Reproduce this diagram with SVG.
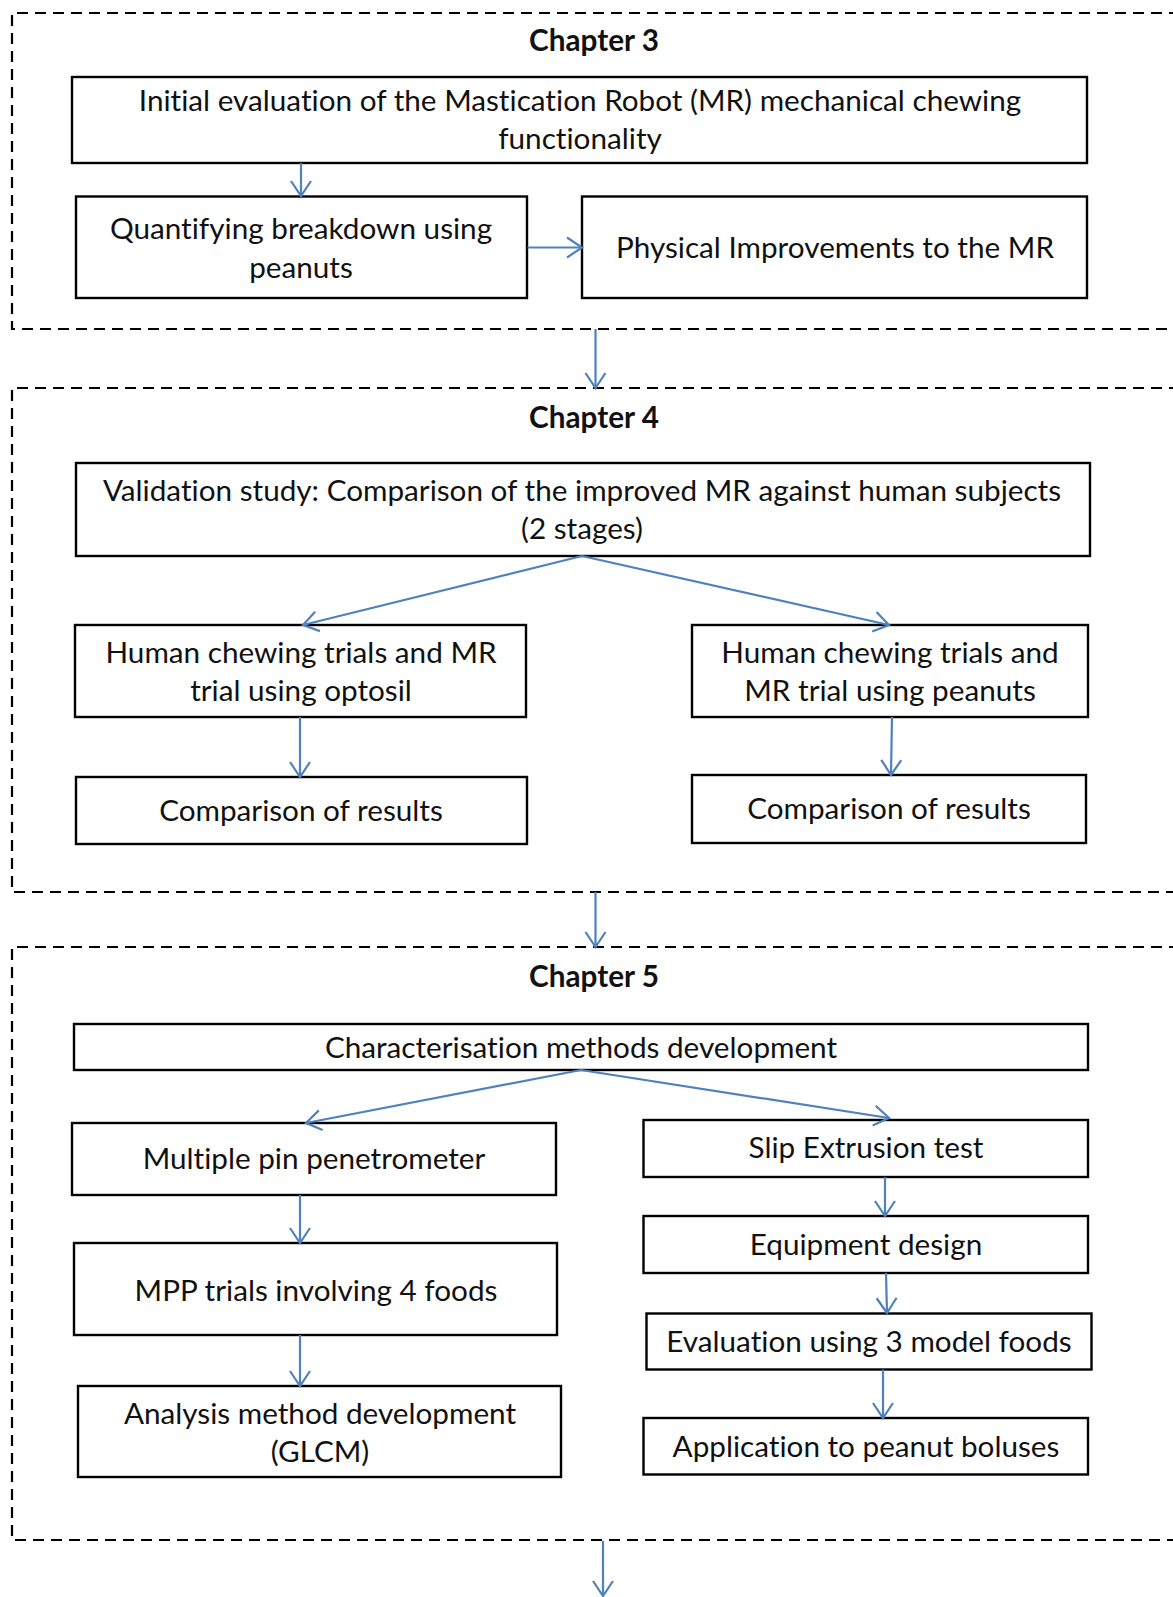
<svg xmlns="http://www.w3.org/2000/svg" width="1173" height="1597" viewBox="0 0 1173 1597">
<style>
.bg{fill:#ffffff}
.frame{fill:none;stroke:#000;stroke-width:2.2;stroke-dasharray:11 7}
.box{fill:#fff;stroke:#000;stroke-width:2.4}
.t,.h{font-family:Lato,"Open Sans","Liberation Sans",sans-serif;font-size:29.7px;fill:#111;text-anchor:middle;dominant-baseline:central;font-variant-ligatures:none}
.h{font-weight:bold}
.c{fill:none;stroke:#4f81bd;stroke-width:2.2;marker-end:url(#arr)}
</style>
<defs>
<marker id="arr" markerUnits="userSpaceOnUse" markerWidth="18" markerHeight="24" viewBox="0 0 18 24" refX="16" refY="12" orient="auto">
<path d="M1,2 L16,12 L1,22" fill="none" stroke="#4f81bd" stroke-width="2.2"/>
</marker>
</defs>
<rect class="bg" x="0" y="0" width="1173" height="1597"/>

<g id="chapter3">
<path class="frame" d="M1180,13 H12 V329 H1180"/>
<text class="h" x="594" y="39">Chapter 3</text>
</g>
<g id="chapter4">
<path class="frame" d="M1180,388 H12 V892 H1180"/>
<text class="h" x="594" y="416">Chapter 4</text>
</g>
<g id="chapter5">
<path class="frame" d="M1180,947 H12 V1540 H1180"/>
<text class="h" x="594" y="975">Chapter 5</text>
</g>

<g id="n-initial">
<rect class="box" x="72" y="77" width="1015" height="86"/>
<text class="t" x="580" y="99.5">Initial evaluation of the Mastication Robot (MR) mechanical chewing</text>
<text class="t" x="580" y="137.5">functionality</text>
</g>
<g id="n-quantifying">
<rect class="box" x="76" y="196.5" width="451" height="101.5"/>
<text class="t" x="301" y="227.5">Quantifying breakdown using</text>
<text class="t" x="301" y="266.5">peanuts</text>
</g>
<g id="n-physical">
<rect class="box" x="582" y="196.5" width="505" height="101.5"/>
<text class="t" x="835" y="246.5">Physical Improvements to the MR</text>
</g>

<g id="n-validation">
<rect class="box" x="76" y="463" width="1014" height="93"/>
<text class="t" x="582" y="489.5">Validation study: Comparison of the improved MR against human subjects</text>
<text class="t" x="582" y="527.5">(2 stages)</text>
</g>
<g id="n-optosil">
<rect class="box" x="75" y="625" width="451" height="92"/>
<text class="t" x="301" y="651.5">Human chewing trials and MR</text>
<text class="t" x="301" y="689.5">trial using optosil</text>
</g>
<g id="n-peanuts">
<rect class="box" x="692" y="625" width="396" height="92"/>
<text class="t" x="890" y="651.5">Human chewing trials and</text>
<text class="t" x="890" y="689.5">MR trial using peanuts</text>
</g>
<g id="n-compare1">
<rect class="box" x="76" y="777" width="451" height="67"/>
<text class="t" x="301" y="809.5">Comparison of results</text>
</g>
<g id="n-compare2">
<rect class="box" x="692" y="775" width="394" height="68"/>
<text class="t" x="889" y="807.5">Comparison of results</text>
</g>

<g id="n-charact">
<rect class="box" x="74" y="1024" width="1014" height="46"/>
<text class="t" x="581" y="1046">Characterisation methods development</text>
</g>
<g id="n-mpp">
<rect class="box" x="72" y="1123" width="484" height="72"/>
<text class="t" x="314" y="1157.5">Multiple pin penetrometer</text>
</g>
<g id="n-slip">
<rect class="box" x="643.5" y="1120" width="444.5" height="57"/>
<text class="t" x="866" y="1146.5">Slip Extrusion test</text>
</g>
<g id="n-mpptrials">
<rect class="box" x="74" y="1243" width="483" height="92"/>
<text class="t" x="316" y="1289.5">MPP trials involving 4 foods</text>
</g>
<g id="n-analysis">
<rect class="box" x="78" y="1386" width="483" height="91"/>
<text class="t" x="320" y="1412.5">Analysis method development</text>
<text class="t" x="320" y="1450.5">(GLCM)</text>
</g>
<g id="n-equip">
<rect class="box" x="643.5" y="1216" width="444.5" height="57"/>
<text class="t" x="866" y="1243.5">Equipment design</text>
</g>
<g id="n-eval">
<rect class="box" x="646.5" y="1313.5" width="445" height="56"/>
<text class="t" x="869" y="1340.5">Evaluation using 3 model foods</text>
</g>
<g id="n-app">
<rect class="box" x="643.5" y="1418" width="444.5" height="56.5"/>
<text class="t" x="866" y="1445.5">Application to peanut boluses</text>
</g>

<g id="connectors">
<path class="c" d="M301,163 V196"/>
<path class="c" d="M527.5,247.5 H582"/>
<path class="c" d="M595.5,329 V388"/>
<path class="c" d="M582,556 L303,625"/>
<path class="c" d="M582,556 L889,625"/>
<path class="c" d="M300,717 V777"/>
<path class="c" d="M892,717 L891,775"/>
<path class="c" d="M595.5,892 V947"/>
<path class="c" d="M581,1070 L306,1123"/>
<path class="c" d="M581,1070 L889,1118"/>
<path class="c" d="M300,1195 V1243"/>
<path class="c" d="M300,1335 V1386"/>
<path class="c" d="M885,1177 V1216"/>
<path class="c" d="M886,1273 L887,1313"/>
<path class="c" d="M883,1369.5 V1418"/>
<path class="c" d="M603,1541 V1596"/>
</g>
</svg>
